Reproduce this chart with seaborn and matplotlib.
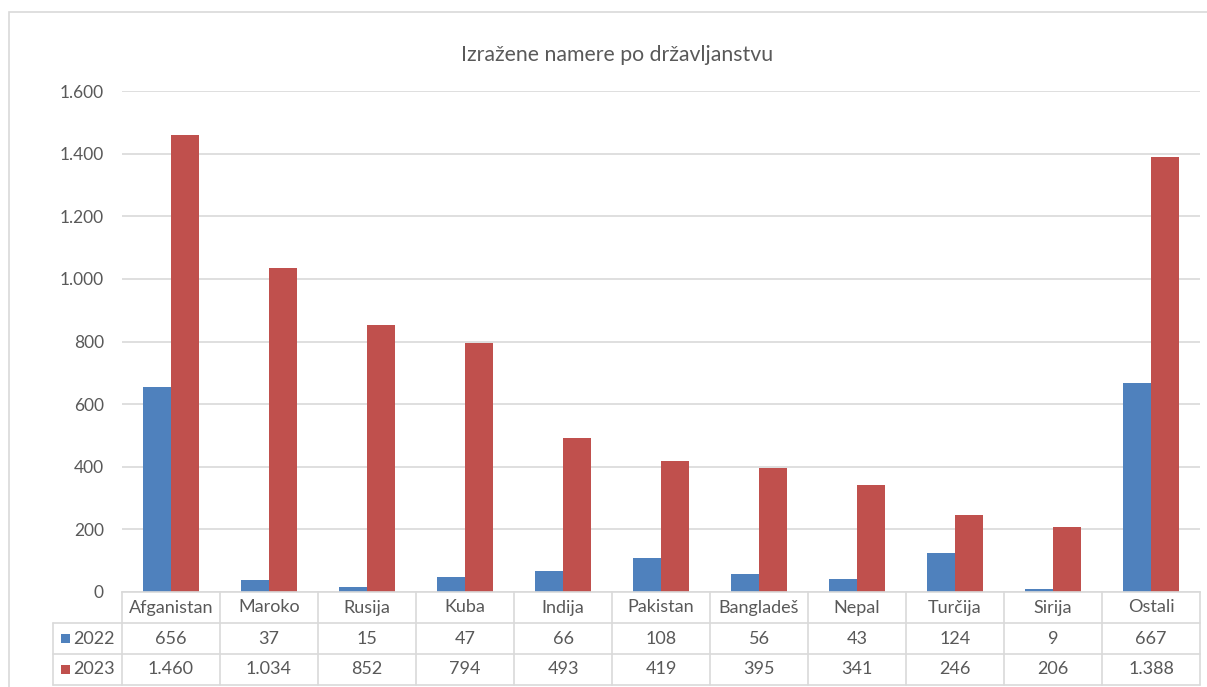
import matplotlib
matplotlib.use("Agg")
import matplotlib.pyplot as plt
import seaborn as sns
import pandas as pd
from matplotlib.ticker import FuncFormatter, MultipleLocator
from matplotlib.patches import Rectangle

categories = ["Afganistan", "Maroko", "Rusija", "Kuba", "Indija", "Pakistan",
              "Bangladeš", "Nepal", "Turčija", "Sirija", "Ostali"]
series_names = ["2022", "2023"]
values_2022 = [656, 37, 15, 47, 66, 108, 56, 43, 124, 9, 667]
values_2023 = [1460, 1034, 852, 794, 493, 419, 395, 341, 246, 206, 1388]
title = "Izražene namere po državljanstvu"

colors = ["#4F81BD", "#C0504D"]
grid_c = "#D9D9D9"
text_c = "#595959"

sns.set_theme(style="white")
plt.rcParams["font.family"] = ["Lato", "DejaVu Sans"]

df = pd.DataFrame({
    "Država": categories * 2,
    "Leto": [series_names[0]] * len(categories) + [series_names[1]] * len(categories),
    "Vrednost": values_2022 + values_2023,
})

W, H = 1207, 687
fig = plt.figure(figsize=(W / 100, H / 100), dpi=100)

def fx(px):
    return px / W

def fy(py):
    return 1 - py / H

# outer chart border
fig.patches.append(Rectangle((fx(8.5), fy(690)), fx(1220) - fx(8.5), fy(12.5) - fy(690),
                             transform=fig.transFigure, fill=False,
                             edgecolor=grid_c, linewidth=1.2))

left_px, right_px, top_px, bottom_px = 122, 1200, 91, 592
ax = fig.add_axes([fx(left_px), fy(bottom_px), fx(right_px) - fx(left_px), fy(top_px) - fy(bottom_px)])

sns.barplot(data=df, x="Država", y="Vrednost", hue="Leto", order=categories,
            hue_order=series_names, palette=colors, width=0.57, gap=0,
            linewidth=0, saturation=1, ax=ax, legend=False)

ax.set_xlim(-0.5, len(categories) - 0.5)
ax.set_ylim(0, 1600)
ax.yaxis.set_major_locator(MultipleLocator(200))
ax.yaxis.set_major_formatter(FuncFormatter(lambda v, p: f"{v:,.0f}".replace(",", ".")))
ax.grid(axis="y", color=grid_c, linewidth=1.2)
ax.set_axisbelow(True)
for s in ["top", "right", "left"]:
    ax.spines[s].set_visible(False)
ax.spines["bottom"].set_color(grid_c)
ax.spines["bottom"].set_linewidth(1.2)
ax.set_xlabel("")
ax.set_ylabel("")
ax.set_xticks([])
ax.tick_params(axis="y", length=0, pad=13, labelsize=12.5, labelcolor=text_c)

fig.text(fx(617), fy(55), title, ha="center", va="center", fontsize=15.3, color=text_c)

# data table
tab_left_px = 53
n = len(categories)
col_px = (right_px - left_px) / n
extra = (left_px - tab_left_px) / col_px
tax = fig.add_axes([fx(tab_left_px), fy(685), fx(right_px) - fx(tab_left_px), fy(592) - fy(685)])
tax.set_xlim(-0.5 - extra, n - 0.5)
tax.set_ylim(0, 3)
tax.axis("off")

lw = 1.2
for i in range(n + 1):
    tax.plot([i - 0.5, i - 0.5], [0, 3], color=grid_c, lw=lw, clip_on=False)
tax.plot([-0.5 - extra, -0.5 - extra], [0, 2], color=grid_c, lw=lw, clip_on=False)
for yv in [0, 1, 2]:
    tax.plot([-0.5 - extra, n - 0.5], [yv, yv], color=grid_c, lw=lw, clip_on=False)

fs = 13
for i, c in enumerate(categories):
    tax.text(i, 2.5, c, ha="center", va="center", fontsize=fs, color=text_c)
    tax.text(i, 1.5, f"{values_2022[i]:,}".replace(",", "."), ha="center", va="center", fontsize=fs, color=text_c)
    tax.text(i, 0.5, f"{values_2023[i]:,}".replace(",", "."), ha="center", va="center", fontsize=fs, color=text_c)

key_w = 9 / col_px
for row_y, name, col in [(1.5, series_names[0], colors[0]), (0.5, series_names[1], colors[1])]:
    x0 = -0.5 - extra + 8 / col_px
    tax.add_patch(Rectangle((x0, row_y - 0.14), key_w, 0.29, facecolor=col, edgecolor="none", clip_on=False))
    tax.text(x0 + key_w + 3 / col_px, row_y, name, ha="left", va="center", fontsize=fs, color=text_c)

fig.savefig("out.png", dpi=100)
